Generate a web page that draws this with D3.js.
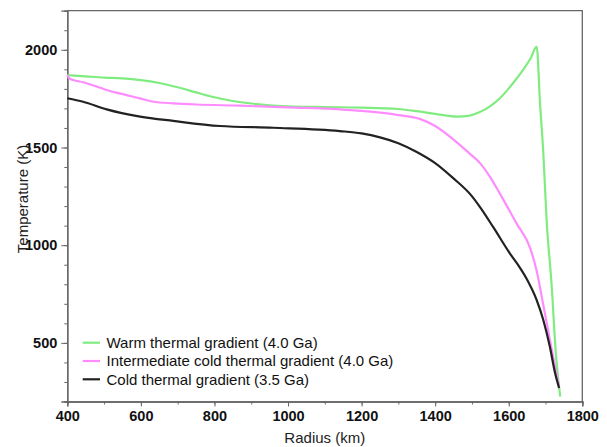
<!DOCTYPE html>
<html>
<head>
<meta charset="utf-8">
<script src="https://cdn.jsdelivr.net/npm/d3@7"></script>
<style>
  body { margin: 0; background: #fff; }
  svg { font-family: "Liberation Sans", Arial, Helvetica, sans-serif; }
</style>
</head>
<body>
<svg></svg>
<script>
// data
let warmRadius = [400, 450, 500, 550, 600, 650, 700, 750, 800, 850, 900, 950, 1000, 1100, 1200, 1300, 1350, 1400, 1460, 1490, 1520, 1550, 1576, 1612, 1640, 1660, 1676, 1685, 1694, 1703, 1717, 1728, 1740]
let warmTemp = [1870, 1864, 1858, 1854, 1845, 1830, 1808, 1782, 1757, 1738, 1725, 1716, 1711, 1707, 1704, 1697, 1686, 1672, 1658, 1662, 1680, 1712, 1752, 1830, 1900, 1958, 2016, 1728, 1472, 1129, 786, 448, 225]

let interRadius = [400, 405, 416, 443, 480, 507, 561, 600, 634, 688, 750, 869, 1000, 1141, 1200, 1300, 1360, 1400, 1449, 1498, 1522, 1549, 1576, 1622, 1658, 1676, 1694, 1712, 1726, 1737]
let interTemp = [1871, 1855, 1845, 1834, 1812, 1794, 1768, 1750, 1734, 1726, 1720, 1714, 1705, 1695, 1687, 1666, 1645, 1610, 1542, 1462, 1420, 1350, 1264, 1109, 986, 868, 694, 515, 377, 274]

let coldRadius = [400, 443, 507, 598, 688, 815, 960, 1141, 1200, 1250, 1300, 1350, 1400, 1449, 1498, 1522, 1558, 1603, 1631, 1649, 1676, 1694, 1712, 1726, 1737]
let coldTemp = [1752, 1734, 1695, 1658, 1636, 1610, 1601, 1584, 1572, 1552, 1522, 1477, 1420, 1343, 1255, 1195, 1092, 958, 883, 827, 719, 617, 479, 346, 269]

let seriesNames = ["Warm thermal gradient (4.0 Ga)", "Intermediate cold thermal gradient (4.0 Ga)", "Cold thermal gradient (3.5 Ga)"]
let seriesColors = ["#80ec80", "#ff8cff", "#222222"]

let xTicks = [400, 600, 800, 1000, 1200, 1400, 1600, 1800]
let yTicks = [500, 1000, 1500, 2000]

let width = 607
let height = 447
let plotLeft = 67.3, plotRight = 582.3, plotTop = 10.7, plotBottom = 401.5

let svg = d3.select("svg").attr("width", width).attr("height", height)

let xScale = d3.scaleLinear().domain([400, 1800]).range([plotLeft, plotRight])
let yScale = d3.scaleLinear().domain([200, 2200]).range([plotBottom, plotTop])

let series = [
  warmRadius.map((r, i) => [r, warmTemp[i]]),
  interRadius.map((r, i) => [r, interTemp[i]]),
  coldRadius.map((r, i) => [r, coldTemp[i]])
]

// minor ticks
svg.append("g")
  .attr("transform", "translate(0," + plotBottom + ")")
  .call(d3.axisBottom(xScale).tickValues(d3.range(400, 1801, 100)).tickSize(3).tickFormat(""))
svg.append("g")
  .attr("transform", "translate(" + plotLeft + ",0)")
  .call(d3.axisLeft(yScale).tickValues(d3.range(200, 2201, 100)).tickSize(3).tickFormat(""))

// major ticks with labels
svg.append("g")
  .attr("transform", "translate(0," + plotBottom + ")")
  .call(d3.axisBottom(xScale).tickValues(xTicks).tickSize(5).tickPadding(4).tickFormat(d3.format("d")))
svg.append("g")
  .attr("transform", "translate(" + plotLeft + ",0)")
  .call(d3.axisLeft(yScale).tickValues(yTicks).tickSize(6).tickPadding(4).tickFormat(d3.format("d")))

svg.selectAll(".domain").attr("stroke", "#666").attr("stroke-width", 1.3)
svg.selectAll(".tick line").attr("stroke", "#666")
svg.selectAll(".tick text")
  .attr("font-size", 14.5)
  .attr("font-weight", "bold")
  .attr("fill", "#111")
  .style("font-family", "'Liberation Sans', Arial, sans-serif")

// frame top + right
svg.append("path")
  .attr("d", "M" + plotLeft + "," + plotTop + "H" + plotRight + "V" + plotBottom)
  .attr("fill", "none")
  .attr("stroke", "#666")
  .attr("stroke-width", 1.3)

// curves
let line = d3.line()
  .x(d => xScale(d[0]))
  .y(d => yScale(d[1]))
  .curve(d3.curveMonotoneX)

svg.selectAll(".curve")
  .data(series)
  .enter()
  .append("path")
  .attr("class", "curve")
  .attr("d", d => line(d))
  .attr("fill", "none")
  .attr("stroke", (d, i) => seriesColors[i])
  .attr("stroke-width", 2.2)

// legend
let legend = svg.append("g")
seriesNames.forEach((name, i) => {
  let y = 342.7 + i * 18.3
  legend.append("line")
    .attr("x1", 82.7).attr("x2", 100)
    .attr("y1", y).attr("y2", y)
    .attr("stroke", seriesColors[i])
    .attr("stroke-width", 2.2)
  legend.append("text")
    .attr("x", 106.5).attr("y", y)
    .attr("dy", "0.36em")
    .attr("font-size", 15)
    .attr("fill", "#111")
    .text(name)
})

// axis titles
svg.append("text")
  .attr("x", (plotLeft + plotRight) / 2)
  .attr("y", 443)
  .attr("text-anchor", "middle")
  .attr("font-size", 15)
  .attr("fill", "#222")
  .text("Radius (km)")

svg.append("text")
  .attr("transform", "translate(27.5,199) rotate(-90)")
  .attr("text-anchor", "middle")
  .attr("font-size", 15)
  .attr("fill", "#222")
  .text("Temperature (K)")
</script>
</body>
</html>
